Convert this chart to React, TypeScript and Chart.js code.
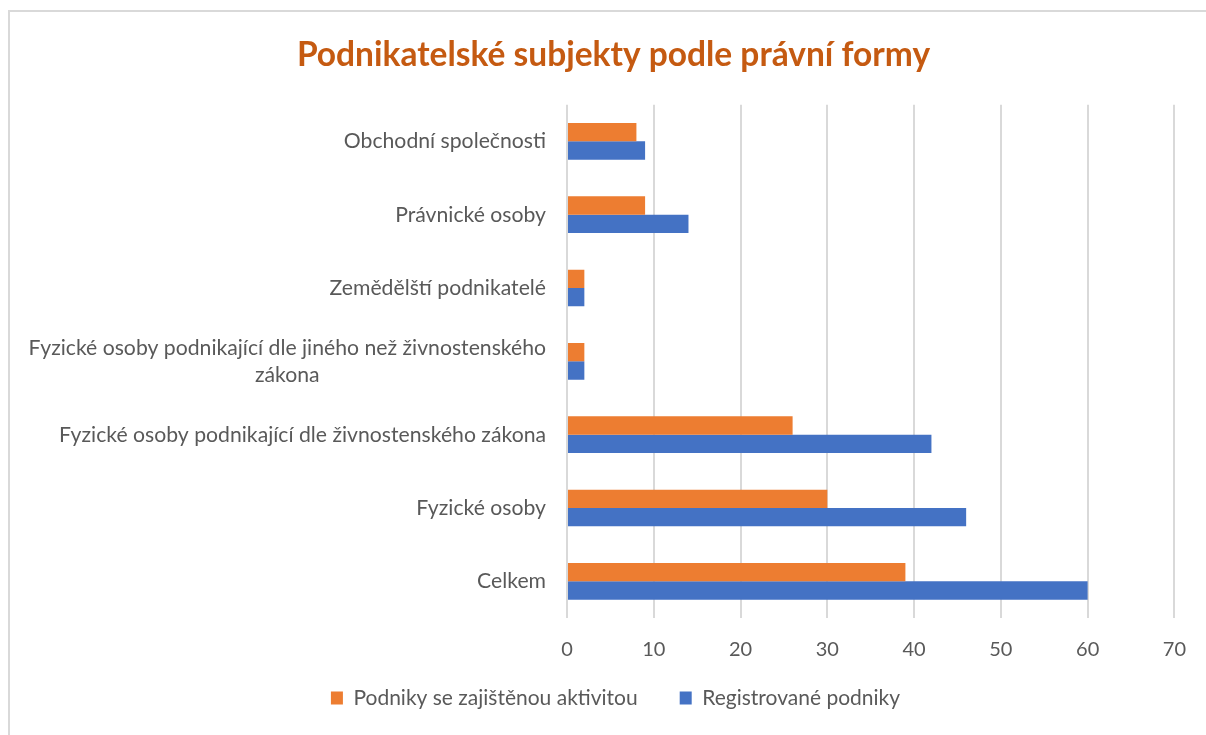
import React, { useEffect, useRef } from "react";
import { Chart, registerables } from "chart.js";

Chart.register(...registerables);

const TITLE = "Podnikatelské subjekty podle právní formy";
const categories: (string | string[])[] = [
  "Obchodní společnosti",
  "Právnické osoby",
  "Zemědělští podnikatelé",
  ["Fyzické osoby podnikající dle jiného než živnostenského", "zákona"],
  "Fyzické osoby podnikající dle živnostenského zákona",
  "Fyzické osoby",
  "Celkem",
];
const seriesNames = ["Podniky se zajištěnou aktivitou", "Registrované podniky"];
const activeValues = [8, 9, 2, 2, 26, 30, 39];
const registeredValues = [9, 14, 2, 2, 42, 46, 60];
const xTicks = [0, 10, 20, 30, 40, 50, 60, 70];

const FONT = "Lato, 'Open Sans', sans-serif";
const TEXT = "#595959";

const yLabelPlugin = {
  id: "yLabels",
  afterLayout(chart: any) {
    const lg = chart.legend;
    if (lg) {
      lg.left += 20;
      lg.right += 20;
      lg.top -= 16.5;
      lg.bottom -= 16.5;
    }
    const t = chart.titleBlock;
    if (t) {
      t.left += 18;
      t.right += 18;
    }
  },
  afterDraw(chart: any) {
    const scale = chart.scales.y;
    const ctx = chart.ctx;
    const size = 21.2;
    const lh = 27;
    ctx.save();
    ctx.font = `${size}px ${FONT}`;
    ctx.fillStyle = TEXT;
    ctx.textBaseline = "middle";
    ctx.textAlign = "center";
    const right = chart.chartArea.left - 21;
    (scale.getLabels() as (string | string[])[]).forEach((lab, i) => {
      const lines = Array.isArray(lab) ? lab : [lab];
      const w = Math.max(...lines.map((l) => ctx.measureText(l).width));
      const cx = right - w / 2;
      const cy = scale.getPixelForTick(i);
      const y0 = cy - ((lines.length - 1) * lh) / 2;
      lines.forEach((l, k) => ctx.fillText(l, cx, y0 + k * lh));
    });
    ctx.restore();
  },
};

export default function App() {
  const ref = useRef<HTMLCanvasElement>(null);
  useEffect(() => {
    document.body.style.overflow = "hidden";
    const chart = new Chart(ref.current!, {
      type: "bar",
      data: {
        labels: categories as any,
        datasets: [
          {
            label: seriesNames[0],
            data: activeValues,
            backgroundColor: "#ED7D31",
            categoryPercentage: 0.5,
            barPercentage: 1,
          },
          {
            label: seriesNames[1],
            data: registeredValues,
            backgroundColor: "#4472C4",
            categoryPercentage: 0.5,
            barPercentage: 1,
          },
        ],
      },
      options: {
        indexAxis: "y",
        animation: false,
        responsive: true,
        maintainAspectRatio: false,
        layout: { padding: { left: 0, right: 25, top: 0, bottom: 0 } },
        plugins: {
          title: {
            display: true,
            text: TITLE,
            color: "#C55A11",
            font: { family: FONT, size: 33.5, weight: "bold" },
            padding: { top: 23, bottom: 29.5 },
          },
          legend: {
            position: "bottom",
            labels: {
              color: TEXT,
              font: { family: FONT, size: 21 },
              boxWidth: 12,
              boxHeight: 13,
              padding: 42,
            },
          },
          tooltip: { enabled: false },
        },
        scales: {
          x: {
            min: 0,
            max: 70,
            afterBuildTicks: (s: any) => {
              s.ticks = xTicks.map((v) => ({ value: v }));
            },
            afterFit: (s: any) => {
              s.height = 44;
            },
            grid: { color: "#D9D9D9", lineWidth: 2, drawTicks: false },
            border: { display: false },
            ticks: { color: TEXT, font: { family: FONT, size: 20 }, padding: 20 },
          },
          y: {
            grid: { display: false },
            border: { display: false },
            ticks: { display: false },
            afterFit: (s: any) => {
              s.width = 557;
            },
          },
        },
      },
      plugins: [yLabelPlugin],
    });
    return () => chart.destroy();
  }, []);
  return (
    <div
      style={{
        position: "fixed",
        left: 8,
        top: 10,
        width: 1198,
        height: 725,
        borderTop: "2px solid #D9D9D9",
        borderLeft: "2px solid #D9D9D9",
        boxSizing: "border-box",
        background: "#fff",
      }}
    >
      <canvas ref={ref} />
    </div>
  );
}
